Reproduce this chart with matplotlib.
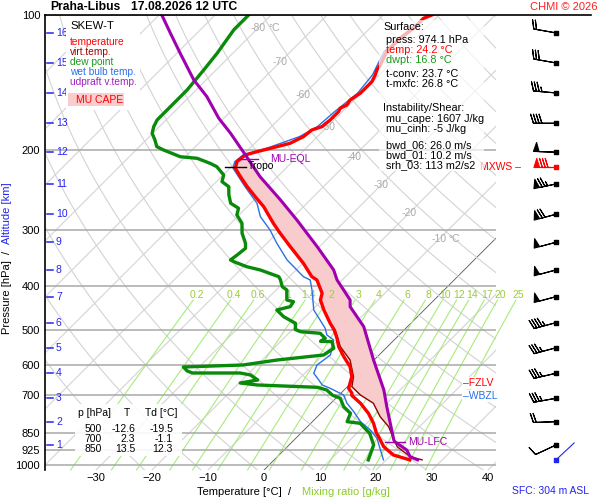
import numpy as np
import matplotlib.pyplot as plt
from matplotlib.patches import Rectangle
from matplotlib.lines import Line2D
from matplotlib.transforms import blended_transform_factory

plt.rcParams['font.family'] = ['Liberation Sans', 'DejaVu Sans']

# sounding: pressure [hPa] / value [degC]
temp_p = [974.1, 950.1, 910.6, 865.2, 850.0, 807.8, 767.5, 729.2, 700.0, 692.9,
          675.3, 636.4, 604.6, 574.5, 545.9, 522.9, 500.0, 484.2, 452.4, 429.8,
          415.3, 388.0, 381.5, 356.2, 327.2, 305.5, 290.3, 266.6, 253.3, 240.7,
          228.7, 219.1, 211.8, 204.6, 201.2, 197.8, 192.8, 186.3, 180.1, 177.1,
          171.1, 168.2, 164.0, 161.1, 158.5, 154.5, 149.2, 144.3, 140.6, 135.9,
          132.5, 129.1, 120.6, 112.6, 107.0, 101.7, 100.0]
temp_t = [24.2, 20.4, 17.2, 14.5, 13.5, 11.2, 8.5, 5.3, 2.3, 2.0,
          0.5, -1.0, -3.1, -6.0, -8.7, -10.5, -12.6, -14.4, -17.9, -20.3,
          -21.2, -24.5, -26.0, -29.9, -35.2, -39.4, -42.4, -47.1, -50.4, -53.6,
          -56.6, -59.0, -59.9, -59.6, -58.1, -56.3, -53.7, -52.5, -52.2, -51.0,
          -50.7, -50.7, -50.7, -51.0, -50.4, -50.7, -50.1, -50.1, -50.1, -50.7,
          -51.3, -51.6, -52.8, -52.8, -52.2, -52.2, -51.3]

tv_p = [974.1, 958.4, 910.6, 857.7, 822.0, 781.0, 729.2, 698.9, 669.9, 636.4,
        584.3, 545.9, 501.1]
tv_t = [26.4, 23.7, 19.6, 16.6, 14.5, 11.2, 7.6, 3.8, 0.8, -0.7,
        -4.3, -8.4, -12.3]

dwpt_p = [974.1, 902.7, 850.3, 807.8, 801.2, 767.5, 742.0, 710.8, 700.0, 681.3,
          672.0, 664.0, 657.3, 647.3, 630.9, 624.5, 624.5, 618.1, 605.6, 599.4,
          584.3, 569.5, 550.4, 532.0, 531.0, 522.9, 509.7, 505.5, 500.0, 484.2,
          468.1, 452.4, 444.8, 433.6, 429.8, 408.3, 401.5, 388.0, 381.5, 368.6,
          362.5, 353.3, 350.2, 341.4, 329.9, 321.6, 305.5, 290.3, 278.2, 268.8,
          262.0, 251.1, 240.7, 234.6, 226.7, 217.3, 213.6, 208.2, 206.5, 199.5,
          196.1, 189.6, 183.2, 177.1, 171.1, 162.5, 146.7, 132.5, 121.6, 107.9,
          100.0]
dwpt_t = [16.8, 15.1, 12.3, 8.8, 6.2, 5.3, 2.9, 0.8, -1.1, -3.1,
          -5.2, -16.4, -19.8, -17.2, -19.4, -21.6, -30.1, -31.4, -32.8, -22.5,
          -17.3, -9.9, -9.3, -10.8, -12.9, -12.6, -14.4, -18.2, -19.5, -20.6,
          -23.9, -26.3, -24.5, -24.8, -26.3, -28.1, -29.5, -31.0, -31.9, -36.4,
          -39.4, -42.6, -43.5, -43.2, -42.9, -43.8, -46.2, -48.0, -50.4, -51.3,
          -53.6, -55.4, -56.9, -59.0, -59.9, -62.6, -64.4, -67.6, -70.9, -75.1,
          -76.9, -78.4, -80.1, -81.0, -81.6, -81.6, -81.6, -82.2, -82.8, -84.0,
          -84.0]

wb_p = [974.1, 926.0, 872.3, 836.0, 801.2, 761.3, 729.2, 698.9, 675.3, 664.0,
        647.3, 625.4, 599.4, 569.5, 550.4, 527.4, 514.1, 496.8, 476.1, 452.4,
        408.3, 388.0, 381.5, 350.2, 321.6, 300.4, 280.6, 262.0, 240.7, 219.1,
        211.8, 204.6, 197.8, 186.3, 177.1, 164.0, 149.2, 135.9, 120.6, 107.0, 100.0]
wb_t = [19.5, 17.2, 14.5, 11.8, 8.6, 5.6, 2.9, 0.8, -2.8, -4.8,
        -6.3, -8.4, -9.3, -8.7, -9.6, -10.8, -12.9, -14.4, -16.8, -19.7,
        -23.6, -25.7, -27.5, -33.4, -38.2, -41.8, -45.9, -48.9, -54.0, -59.4,
        -60.3, -60.0, -57.0, -53.2, -51.8, -51.4, -50.6, -51.2, -53.3, -52.7, -51.8]

parcel_p = [974.1, 958.4, 926.1, 889.0, 879.9, 742.0, 681.3, 647.3, 584.3, 492.7,
            444.8, 429.8, 388.0, 368.6, 327.2, 285.4, 257.6, 228.7, 204.6, 183.2,
            169.6, 151.8, 139.4, 121.6, 109.8, 100.0]
parcel_t = [25.6, 23.7, 21.9, 18.4, 17.8, 10.6, 7.1, 4.7, -0.1, -7.8,
            -13.8, -15.0, -20.9, -23.3, -30.4, -38.8, -45.3, -53.1, -59.6, -66.1,
            -70.9, -76.9, -82.2, -89.4, -94.7, -99.5]

# levels
mu_lfc = 889.0
mu_eql = 209.0
tropo_p = 218.0
fzlv_p = 657.0
wbzl_p = 702.0

# altitude [km] vs pressure, and winds at these levels (dir deg, speed kt)
alt_km = [1, 2, 3, 4, 5, 6, 7, 8, 9, 10, 11, 12, 13, 14, 15, 16]
alt_p = [902.7, 801.2, 710.8, 625.4, 548.9, 482.7, 422.6, 368.6, 319.9, 277.2,
         237.4, 201.8, 174.0, 149.0, 127.8, 109.6]
wind_dir = [245, 268, 260, 257, 255, 255, 255, 255, 255, 255,
            258, 272, 270, 275, 280, 280]
wind_spd = [10, 20, 35, 35, 35, 45, 50, 50, 50, 70,
            75, 50, 40, 35, 30, 20]
mxws_p, mxws_dir, mxws_spd = 217.6, 270, 80
sfc_p, sfc_dir = 974.1, 47

# table
tab_p = [500, 700, 850]
tab_t = [-12.6, 2.3, 13.5]
tab_td = [-19.5, -1.1, 12.3]

mix_ratios = [0.2, 0.4, 0.6, 1, 1.4, 2, 3, 4, 6, 8, 10, 12, 14, 17, 20, 25]
p_levels = [100, 200, 300, 400, 500, 600, 700, 850, 925, 1000]

P_BOT = 1025.9
P_TOP = 100.0
SKEW = 34.9
W, H = 600, 500


def skx(t, p):
    return np.asarray(t, float) + SKEW * np.log(P_BOT / np.asarray(p, float))


def fx(x):
    return x / W


def fy(y):
    return 1 - y / H


def layer(p, t, top, bot):
    p = np.asarray(p, float)
    t = np.asarray(t, float)
    lp = np.log(p)[::-1]
    t_top = np.interp(np.log(top), lp, t[::-1])
    t_bot = np.interp(np.log(bot), lp, t[::-1])
    m = (p < bot) & (p > top)
    return np.r_[bot, p[m], top], np.r_[t_bot, t[m], t_top]


fig = plt.figure(figsize=(6, 5), dpi=100)
ax = fig.add_axes([fx(45), 30 / H, 451 / W, 455 / H])
ax.set_yscale('log')
ax.set_ylim(P_BOT, P_TOP)
ax.set_xlim(-39.1, 41.4)
for s in ['top', 'right', 'bottom']:
    ax.spines[s].set_visible(False)
ax.spines['left'].set_linewidth(1.2)

ax.set_yticks(p_levels)
ax.set_yticklabels([str(p) for p in p_levels])
ax.yaxis.set_minor_locator(plt.NullLocator())
ax.set_xticks(range(-30, 41, 10))
ax.tick_params(axis='both', length=0, labelsize=8)
ax.tick_params(axis='y', pad=3.5)
ax.tick_params(axis='x', pad=2.5)
for p in p_levels:
    ax.axhline(p, color='#a8a8a8', lw=1.1, zorder=1)

# background grid: isotherms, dry adiabats
pp = np.logspace(np.log10(P_BOT), np.log10(P_TOP), 120)
for t in range(-140, 50, 10):
    ax.plot(skx(np.full_like(pp, t), pp), pp,
            color='#555555' if t == 0 else '#d3d3d3',
            lw=0.6 if t == 0 else 0.8, zorder=0.5)
for th in range(250, 480, 10):
    ax.plot(skx(th * (pp / 1000.0) ** 0.2857 - 273.15, pp), pp,
            color='#d3d3d3', lw=0.8, zorder=0.5)

# isotherm labels along one dry adiabat
for t in range(-80, 0, 10):
    pl = 1000.0 * ((t + 273.15) / 366.0) ** 3.5
    ax.text(skx(t, pl), pl, str(t), color='#aaaaaa', fontsize=7.5,
            ha='center', va='center', zorder=0.8)
    if t in (-80, -10):
        ax.annotate('°C', (skx(t, pl), pl), xytext=(7, 0),
                    textcoords='offset points', color='#aaaaaa',
                    fontsize=7.5, va='center', zorder=0.8)

# mixing ratio lines
pm = np.logspace(np.log10(P_BOT), np.log10(430.0), 60)
for w in mix_ratios:
    e = w * pm / (622.0 + w)
    le = np.log(e / 6.112)
    td = 243.5 * le / (17.67 - le)
    ax.plot(skx(td, pm), pm, color='#a6ec7c', lw=0.8, zorder=0.6, clip_on=False)
    e = w * 419.0 / (622.0 + w)
    le = np.log(e / 6.112)
    ax.text(skx(243.5 * le / (17.67 - le), 419.0), 419.0, f'{w:g}',
            color='#9ccc3c', fontsize=7.5, ha='center', va='center', clip_on=False)

# CAPE area between parcel and environment virtual temperature
env_p = np.r_[np.array(tv_p)[np.array(tv_p) > 500], np.array(temp_p)[np.array(temp_p) <= 500]]
env_t = np.r_[np.array(tv_t)[np.array(tv_p) > 500], np.array(temp_t)[np.array(temp_p) <= 500]]
lp1, lt1 = layer(parcel_p, parcel_t, mu_eql, mu_lfc)
lp2, lt2 = layer(env_p, env_t, mu_eql, mu_lfc)
ax.fill(np.r_[skx(lt1, lp1), skx(lt2, lp2)[::-1]], np.r_[lp1, lp2[::-1]],
        color='#f8cccc', lw=0, zorder=2)

ax.plot(skx(wb_t, wb_p), wb_p, color='#2a70e8', lw=1.0, zorder=3)
ax.plot(skx(tv_t, tv_p), tv_p, color='#8b0000', lw=1.0, zorder=3)
ax.plot(skx(temp_t, temp_p), temp_p, color='#ff0000', lw=2.4, zorder=4)
ax.plot(skx(dwpt_t, dwpt_p), dwpt_p, color='#0a8a0a', lw=2.4, zorder=4)
ax.plot(skx(parcel_t, parcel_p), parcel_p, color='#a000b0', lw=2.2, zorder=4)

# level marks
xp = skx(np.interp(np.log(tropo_p), np.log(temp_p[::-1]), temp_t[::-1]), tropo_p)
ax.plot([xp - 1.9, xp + 1.9], [tropo_p] * 2, color='k', lw=1, zorder=5)
ax.text(xp + 2.2, tropo_p * 0.995, 'Tropo', fontsize=7.5, va='center', zorder=5)
xp = skx(np.interp(np.log(mu_eql), np.log(parcel_p[::-1]), parcel_t[::-1]), mu_eql)
ax.plot([xp - 1.8, xp + 1.8], [mu_eql] * 2, color='#a000b0', lw=1, zorder=5)
ax.text(xp + 4.0, mu_eql, 'MU-EQL', color='#a000b0', fontsize=7.5, va='center', zorder=5)
xp = skx(np.interp(np.log(mu_lfc), np.log(parcel_p[::-1]), parcel_t[::-1]), mu_lfc)
ax.plot([xp - 1.8, xp + 1.8], [mu_lfc] * 2, color='#a000b0', lw=1, zorder=5)
ax.text(xp + 2.3, mu_lfc, 'MU-LFC', color='#a000b0', fontsize=7.5, va='center', zorder=5)

bl = blended_transform_factory(ax.transAxes, ax.transData)
ax.text(0.927, fzlv_p, '–FZLV', transform=bl, color='#ff0000', fontsize=7.5,
        va='center', zorder=6, clip_on=False,
        bbox=dict(facecolor='white', edgecolor='none', pad=0.8))
ax.text(0.927, wbzl_p, '–WBZL', transform=bl, color='#2a70e8', fontsize=7.5,
        va='center', zorder=6, clip_on=False,
        bbox=dict(facecolor='white', edgecolor='none', pad=0.8))

# altitude scale
for km, p in zip(alt_km, alt_p):
    ax.plot([0.0044, 0.0177], [p, p], transform=bl, color='#2424ee', lw=1.1,
            clip_on=False, zorder=6)
    ax.text(0.0243, p, str(km), transform=bl, color='#2424ee', fontsize=7.5,
            va='center', zorder=6)

# wind barbs
bax = fig.add_axes([fx(500), 30 / H, 100 / W, 455 / H])
bax.set_yscale('log')
bax.set_ylim(P_BOT, P_TOP)
bax.set_xlim(0, 100)
bax.axis('off')
d = np.radians(wind_dir)
spd = np.array(wind_spd, float)
bax.barbs(np.full(len(alt_p), 56.0), alt_p, -spd * np.sin(d), -spd * np.cos(d),
          length=5.7, lw=0.8, color='k')
bax.scatter(np.full(len(alt_p), 56.0), alt_p, marker='s', s=7, color='k', zorder=3)
dm = np.radians(mxws_dir)
bax.barbs([56.0], [mxws_p], [-mxws_spd * np.sin(dm)], [-mxws_spd * np.cos(dm)],
          length=5.7, lw=0.8, color='#ff0000')
bax.scatter([56.0], [mxws_p], marker='s', s=7, color='#ff0000', zorder=3)
bax.text(20.5, mxws_p, 'MXWS –', ha='right', va='center', color='#ff0000', fontsize=7.5)
ds = np.radians(sfc_dir)
bax.annotate('', xy=(56.0, sfc_p), xytext=(18 * np.sin(ds), 18 * np.cos(ds)),
             textcoords='offset points',
             arrowprops=dict(arrowstyle='-', color='#2424ee', lw=0.8, shrinkA=0, shrinkB=0))
bax.scatter([56.0], [sfc_p], marker='s', s=7, color='#2424ee', zorder=3)

# boxes
fig.add_artist(Rectangle((fx(66), fy(110)), 74 / W, 94 / H, transform=fig.transFigure,
                         facecolor='white', edgecolor='none', zorder=1))
fig.add_artist(Rectangle((fx(68), fy(106)), 56 / W, 13 / H, transform=fig.transFigure,
                         facecolor='#fbcccc', edgecolor='none', zorder=1.5))
fig.add_artist(Rectangle((fx(379), fy(171)), 105 / W, 151 / H, transform=fig.transFigure,
                         facecolor='white', edgecolor='none', alpha=0.7, zorder=1))
fig.add_artist(Rectangle((fx(75), fy(456)), 107 / W, 52 / H, transform=fig.transFigure,
                         facecolor='white', edgecolor='none', alpha=0.9, zorder=1))
fig.add_artist(Line2D([fx(45), fx(591)], [fy(15), fy(15)], color='k', lw=1.2, zorder=2))

# titles and labels
fig.text(fx(50), fy(7), 'Praha-Libus', fontsize=8.7, weight='bold', va='center')
fig.text(fx(131), fy(7), '17.08.2026 12 UTC', fontsize=8.7, weight='bold', va='center')
fig.text(fx(597), fy(7), 'CHMI © 2026', fontsize=8, color='#ff2020', ha='right', va='center')
fig.text(fx(197), fy(492), 'Temperature [°C]  /', fontsize=8, va='center')
fig.text(fx(302), fy(492), 'Mixing ratio [g/kg]', fontsize=8, color='#8ccc30', va='center')
fig.text(fx(7), fy(297), 'Pressure [hPa]', fontsize=8, rotation=90, ha='center', va='center')
fig.text(fx(7), fy(252), '/', fontsize=8, rotation=90, ha='center', va='center')
fig.text(fx(7), fy(213), 'Altitude [km]', fontsize=8, rotation=90, ha='center', va='center',
         color='#2424ee')
fig.text(fx(589), fy(491), 'SFC: 304 m ASL', fontsize=7.5, color='#2424ee', ha='right',
         va='center')

# legend
fig.text(fx(70), fy(26), 'SKEW-T', fontsize=8.2, va='center')
legend_items = [('temperature', '#ff0000'), ('virt.temp.', '#a00000'),
                ('dew point', '#1a9a1a'), ('wet bulb temp.', '#2a70e8'),
                ('udpraft v.temp.', '#a020c0')]
for i, (lab, col) in enumerate(legend_items):
    fig.text(fx(70), fy(42 + 10 * i), lab, fontsize=7.3, color=col, va='center')
fig.text(fx(76), fy(100), 'MU CAPE', fontsize=7.5, color='#ff0000', va='center')

# surface / instability box
sfc_lines = [(27, 383, 'Surface:', 'k'), (40, 386, 'press: 974.1 hPa', 'k'),
             (50, 386, 'temp: 24.2 °C', '#ff0000'), (60, 386, 'dwpt: 16.8 °C', '#1a9a1a'),
             (74, 386, 't-conv: 23.7 °C', 'k'), (84, 386, 't-mxfc: 26.8 °C', 'k'),
             (108, 383, 'Instability/Shear:', 'k'), (119, 386, 'mu_cape: 1607 J/kg', 'k'),
             (129, 386, 'mu_cinh: -5 J/kg', 'k'), (145, 386, 'bwd_06: 26.0 m/s', 'k'),
             (155, 386, 'bwd_01: 10.2 m/s', 'k'), (165, 386, 'srh_03: 113 m2/s2', 'k')]
for y, x, s, c in sfc_lines:
    fig.text(fx(x), fy(y), s, fontsize=7.8, color=c, va='center')

# table
fig.text(fx(78), fy(413), 'p [hPa]', fontsize=7.5, va='center')
fig.text(fx(127), fy(413), 'T', fontsize=7.5, va='center', ha='center')
fig.text(fx(145), fy(413), 'Td [°C]', fontsize=7.5, va='center')
for i, (p, t, td) in enumerate(zip(tab_p, tab_t, tab_td)):
    y = fy(428.5 + 10 * i)
    fig.text(fx(102), y, str(p), fontsize=7.5, ha='right', va='center')
    fig.text(fx(135), y, f'{t:.1f}', fontsize=7.5, ha='right', va='center')
    fig.text(fx(173), y, f'{td:.1f}', fontsize=7.5, ha='right', va='center')

fig.savefig('out.png', dpi=100)
